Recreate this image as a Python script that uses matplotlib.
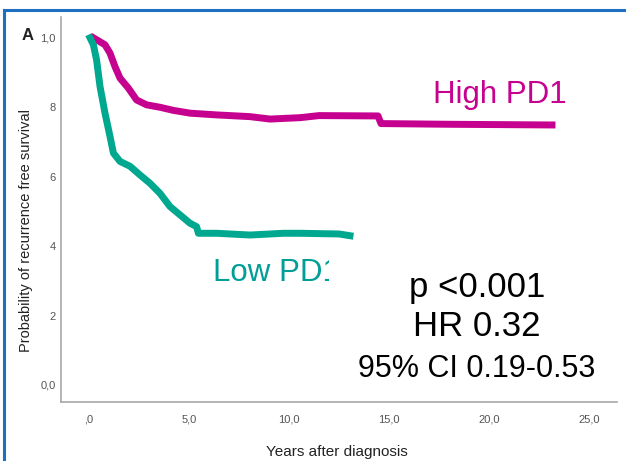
import matplotlib.pyplot as plt
from matplotlib.lines import Line2D
from matplotlib.transforms import Bbox

# Kaplan-Meier style curves
high_years = [0.22, 0.8, 1.05, 1.3, 1.55, 1.97, 2.38, 2.88, 3.55, 4.22, 5.05, 6.38,
              8.05, 9.05, 10.55, 11.5, 14.45, 14.6, 18.0, 23.15]
high_surv = [1.0, 0.98, 0.956, 0.917, 0.884, 0.855, 0.821, 0.807, 0.80, 0.791, 0.783,
             0.778, 0.773, 0.766, 0.77, 0.776, 0.775, 0.753, 0.751, 0.749]

low_years = [0.05, 0.22, 0.38, 0.55, 0.8, 1.05, 1.22, 1.55, 2.05, 2.55, 3.05, 3.55,
             4.05, 4.55, 5.05, 5.38, 5.47, 6.38, 8.05, 9.72, 10.55, 12.5, 13.05]
low_surv = [1.0, 0.98, 0.936, 0.86, 0.783, 0.716, 0.668, 0.644, 0.63, 0.605, 0.581,
            0.552, 0.514, 0.49, 0.466, 0.456, 0.437, 0.437, 0.432, 0.437, 0.437,
            0.435, 0.43]

xticks = [0, 5, 10, 15, 20, 25]
xticklabels = [',0', '5,0', '10,0', '15,0', '20,0', '25,0']
yticks = [0, 0.2, 0.4, 0.6, 0.8, 1.0]
yticklabels = ['0,0', '2', '4', '6', '8', '1,0']

stats = ['p <0.001', 'HR 0.32', '95% CI 0.19-0.53']

MAGENTA = '#C6008F'
TEAL = '#00A88F'
W, H = 626, 461

fig = plt.figure(figsize=(6.26, 4.61), dpi=100)
ax = fig.add_axes([61 / W, 1 - 402 / H, (617 - 61) / W, (402 - 17) / H])

ax.plot(high_years, high_surv, color=MAGENTA, lw=5, solid_joinstyle='round')
ax.plot(low_years, low_surv, color=TEAL, lw=5, solid_joinstyle='round')

ax.set_xlim(-1.4, 26.4)
ax.set_ylim(-0.049, 1.06)
ax.set_xticks(xticks)
ax.set_xticklabels(xticklabels)
ax.set_yticks(yticks)
ax.set_yticklabels(yticklabels)

narrow = ['Liberation Sans Narrow', 'Liberation Sans', 'DejaVu Sans']
for lab in ax.get_xticklabels() + ax.get_yticklabels():
    lab.set_family(narrow)
    lab.set_fontsize(8)
    lab.set_color('#555555')
ax.tick_params(axis='x', length=0, pad=9)
ax.tick_params(axis='y', length=0, pad=4)

for s in ['top', 'right']:
    ax.spines[s].set_visible(False)
for s in ['left', 'bottom']:
    ax.spines[s].set_color('#A8A8A8')
    ax.spines[s].set_linewidth(1.2)

fig.text(337 / W, 1 - 452 / H, 'Years after diagnosis', ha='center', va='center',
         family=narrow, fontsize=11, color='#222222')
fig.text(26 / W, 1 - 231 / H, 'Probability of recurrence free survival', rotation=90,
         ha='center', va='center', family=['Liberation Sans'], fontsize=10.5,
         color='#222222')
fig.text(28 / W, 1 - 35 / H, 'A', ha='center', va='center', family=['Liberation Sans'],
         fontsize=12, fontweight='bold', color='#222222')

# group labels
fig.text(433 / W, 1 - 95 / H, 'High PD1', ha='left', va='center',
         family=['Liberation Sans'], fontsize=22.5, color=MAGENTA)
low_txt = fig.text(213 / W, 1 - 273 / H, 'Low PD1', ha='left', va='center',
                   family=['Liberation Sans'], fontsize=22.5, color='#009E96')
low_txt.set_clip_box(Bbox.from_extents(150, 0, 329, H))

# statistics
stat_y = [287, 327, 369]
stat_size = [25, 25, 22]
for txt, y, fs in zip(stats, stat_y, stat_size):
    fig.text(477 / W, 1 - y / H, txt, ha='center', va='center',
             family=['Liberation Sans'], fontsize=fs, color='black')

# blue frame (top and left edges only)
frame = '#1F6FC0'
fig.add_artist(Line2D([4 / W, 1], [1 - 10 / H, 1 - 10 / H], color=frame, lw=2.2,
                      transform=fig.transFigure))
fig.add_artist(Line2D([4 / W, 4 / W], [0, 1 - 10 / H], color=frame, lw=2.2,
                      transform=fig.transFigure))

fig.savefig('out.png', dpi=100)
